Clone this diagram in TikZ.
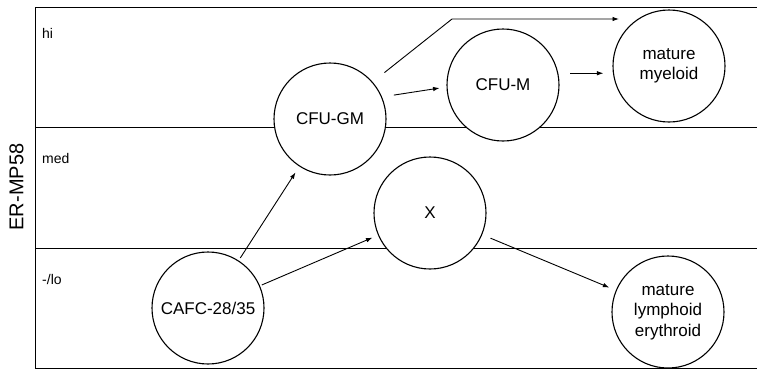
\documentclass[tikz,border=0pt]{standalone}
\usepackage{fontspec}
\setmainfont{Liberation Sans}
\usetikzlibrary{arrows.meta,calc}
\begin{document}
\begin{tikzpicture}[x=1pt,y=-1pt,
  cell/.style={circle,draw,line width=1.1pt,fill=white,minimum size=112pt,inner sep=0pt,
               align=center,font=\fontsize{17}{20.5}\selectfont},
  level/.style={anchor=west,inner sep=0pt,font=\fontsize{14}{16}\selectfont},
  arr/.style={line width=0.9pt,-{Latex[length=6.5pt,width=4.5pt]}},
  rule/.style={line width=0.9pt}]
\useasboundingbox (0,0) rectangle (757,370);

% frame and the three expression bands
\draw[rule] (757,7) -- (35,7) -- (35,368) -- (757,368);
\draw[rule] (35,127) -- (757,127);
\draw[rule] (35,248) -- (757,248);

% band labels and axis title
\node[level] (hi)  at (42,33)  {hi};
\node[level] (med) at (42,158) {med};
\node[level] (lo)  at (42,279) {-/lo};
\node[rotate=90,inner sep=0pt,font=\fontsize{20}{24}\selectfont] (axis) at (16.5,187) {ER-MP58};

% cell populations
\node[cell] (gm)   at (330,119) {CFU-GM};
\node[cell] (cfum) at (503,85)  {CFU-M};
\node[cell] (mm)   at (669,66)  {mature\\myeloid};
\node[cell] (x)    at (430,213) {X};
\node[cell] (cafc) at (208,308) {CAFC-28/35};
\node[cell] (ml)   at (668,312) {mature\\lymphoid\\erythroid};

% lineage transitions
\coordinate (bend)  at (452,19);
\coordinate (tipmm) at (619,19);
\draw[arr,shorten <=15pt] (gm.41) -- (bend) -- (tipmm);
\draw[arr,shorten <=12pt,shorten >=7pt] (gm.23) -- (cfum.182);
\draw[arr,shorten <=12pt,shorten >=9pt] (cfum.12) -- (cfum.12 -| mm.west);
\draw[arr,shorten <=3pt,shorten >=7pt] (cafc) -- (gm);
\draw[arr,shorten <=2pt,shorten >=6pt] (cafc) -- (x);
\draw[arr,shorten <=9pt,shorten >=7pt] (x) -- (ml);
\end{tikzpicture}
\end{document}
